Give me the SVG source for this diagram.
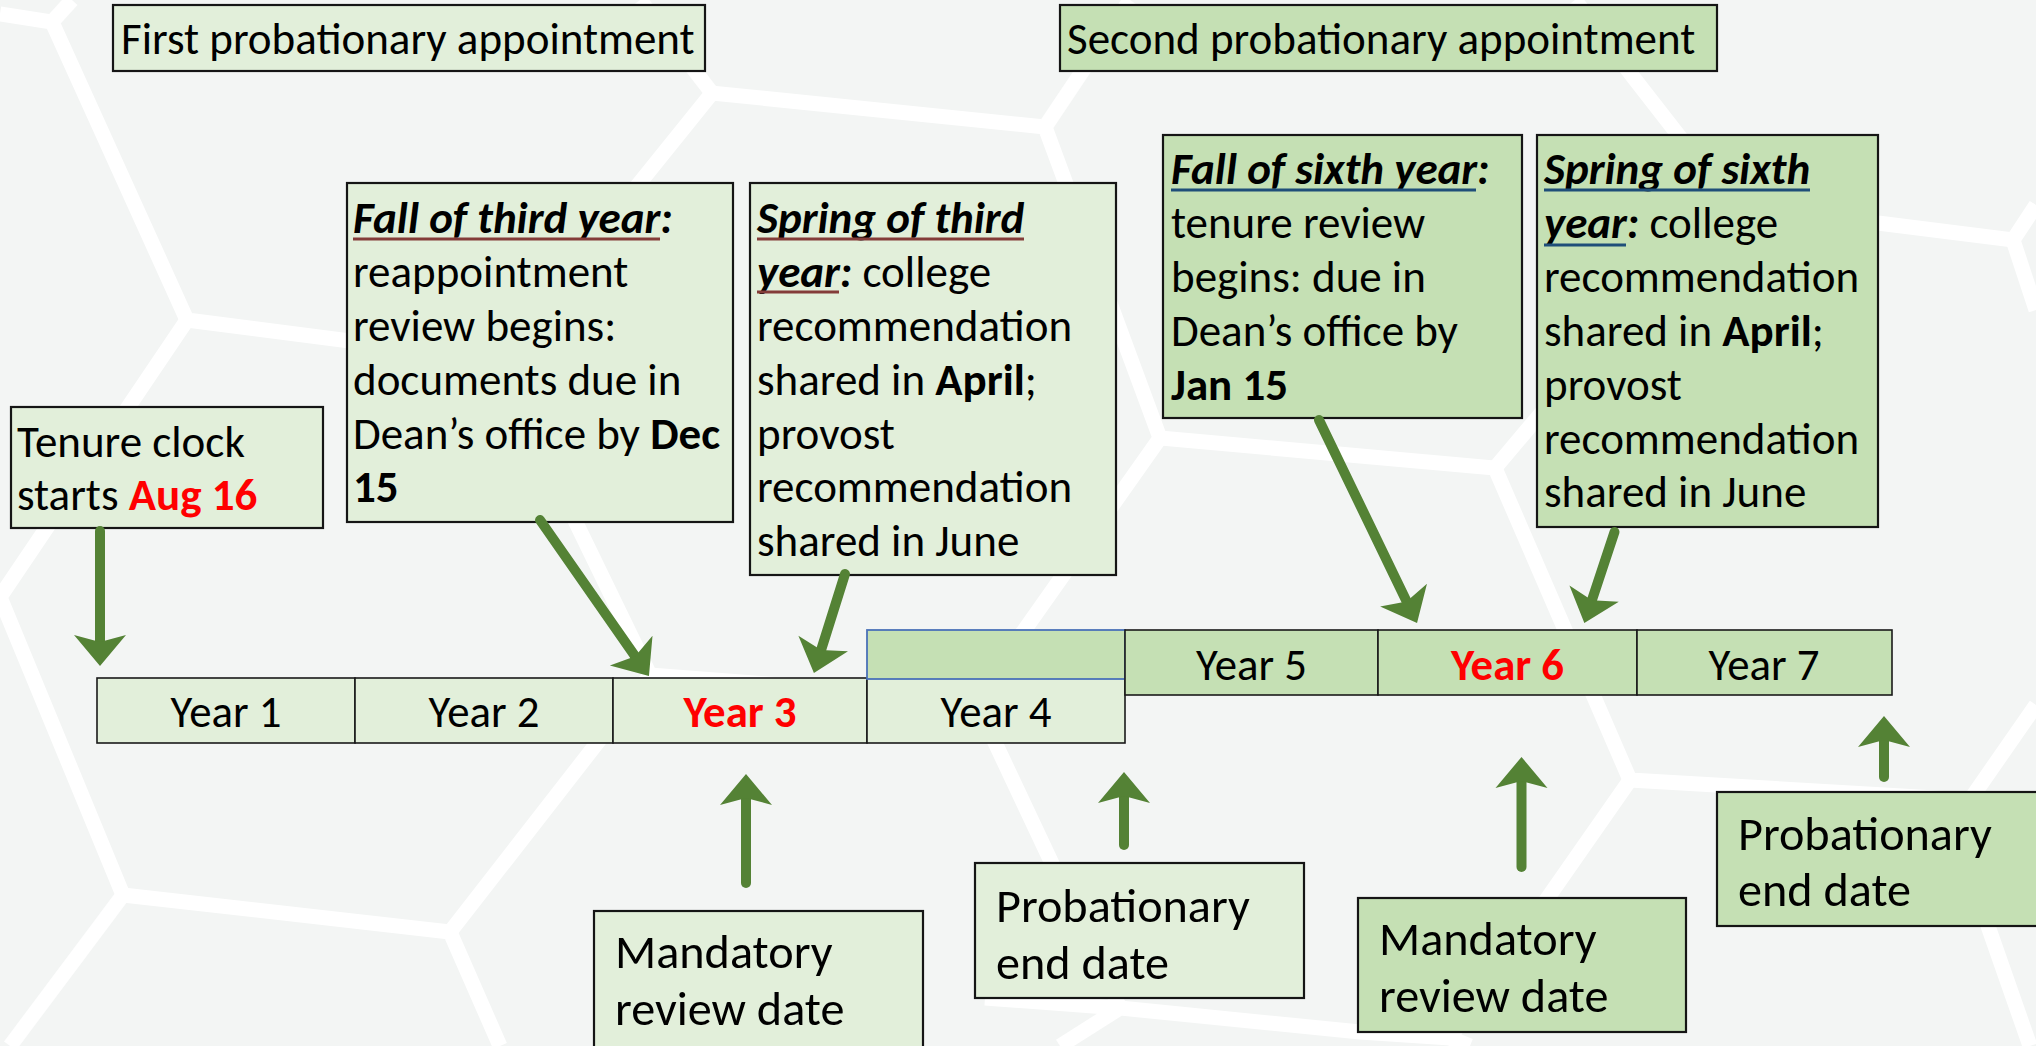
<svg xmlns="http://www.w3.org/2000/svg" width="2036" height="1046" viewBox="0 0 2036 1046">
<style>
.bg{fill:#f3f5f4}
.net{fill:none;stroke:#ffffff;stroke-width:15;stroke-linejoin:miter;stroke-linecap:butt}
.lt{fill:#e2efda;stroke:#151515;stroke-width:2.2}
.dk{fill:#c5e0b4;stroke:#151515;stroke-width:2.2}
.cl{fill:#e2efda;stroke:#1a1a1a;stroke-width:1.6}
.cd{fill:#c5e0b4;stroke:#1a1a1a;stroke-width:1.6}
.blank{fill:#c5e0b4;stroke:#4a72b8;stroke-width:1.8}
text{font-family:Carlito,Calibri,Lato,"Liberation Sans",sans-serif;fill:#000}
.h{font-size:45px}
.t{font-size:45px}
.tb{font-size:48.2px}
.yr{font-size:44.8px;text-anchor:middle}
.b{font-weight:bold}
.bi{font-weight:bold;font-style:italic}
.red{fill:#ff0000}
.ulr{stroke:#843c39;stroke-width:3}
.ulb{stroke:#1f4e79;stroke-width:3}
.arr{fill:none;stroke:#548235;stroke-width:10;stroke-linecap:round;marker-end:url(#head)}
</style>
<defs>
<marker id="head" markerUnits="userSpaceOnUse" markerWidth="40" markerHeight="60" refX="7" refY="26" orient="auto" overflow="visible">
<path d="M0,0 L31,26 L0,52 L7,26 Z" fill="#548235"/>
</marker>
</defs>
<rect class="bg" x="0" y="0" width="2036" height="1046"/>
<g id="background-net">
<polyline class="net" points="0,14 52,22 187,320 497,360 712,93 1045,127 1160,438 1495,468 1630,780 1970,800 2036,705"/>
<polyline class="net" points="52,22 72,0"/>
<polyline class="net" points="187,320 0,597 123,895 450,932 500,1046"/>
<polyline class="net" points="123,895 10,1046"/>
<polyline class="net" points="450,932 650,675 497,360"/>
<polyline class="net" points="712,93 640,0"/>
<polyline class="net" points="1045,127 1130,0"/>
<polyline class="net" points="650,675 975,700 1160,438"/>
<polyline class="net" points="975,700 1120,1008 1360,1032 1450,1038 1630,780"/>
<polyline class="net" points="1120,1008 1060,1046"/>
<polyline class="net" points="1120,1008 985,998"/>
<polyline class="net" points="1450,1038 1470,1046"/>
<polyline class="net" points="1495,468 1725,195 1630,73 1575,0"/>
<polyline class="net" points="1725,195 1878,223 2013,240 2036,205"/>
<polyline class="net" points="2013,240 2036,310"/>
<polyline class="net" points="1970,800 1988,926 2030,1046"/>
</g>
<g id="first-appointment">
<rect class="lt" x="113" y="5" width="592" height="66"/>
<text class="h" x="121" y="54">First probationary appointment</text>
</g>
<g id="second-appointment">
<rect class="dk" x="1060" y="5" width="657" height="66"/>
<text class="h" x="1067" y="54">Second probationary appointment</text>
</g>
<g id="tenure-clock">
<rect class="lt" x="11" y="407" width="312" height="121"/>
<text class="t" x="17" y="457">Tenure clock</text>
<text class="t" x="17" y="510">starts <tspan class="b red">Aug 16</tspan></text>
</g>
<g id="fall-third">
<rect class="lt" x="347" y="183" width="386" height="339"/>
<text class="t" x="353" y="233"><tspan class="bi">Fall of third year:</tspan></text>
<line class="ulr" x1="353" y1="239" x2="660" y2="239"/>
<text class="t" x="353" y="287">reappointment</text>
<text class="t" x="353" y="341">review begins:</text>
<text class="t" x="353" y="395">documents due in</text>
<text class="t" x="353" y="449">Dean’s office by <tspan class="b">Dec</tspan></text>
<text class="t b" x="353" y="502">15</text>
</g>
<g id="spring-third">
<rect class="lt" x="750" y="183" width="366" height="392"/>
<text class="t" x="757" y="233"><tspan class="bi">Spring of third</tspan></text>
<line class="ulr" x1="757" y1="239" x2="1024" y2="239"/>
<text class="t" x="757" y="287"><tspan class="bi">year:</tspan> college</text>
<line class="ulr" x1="757" y1="292" x2="839" y2="292"/>
<text class="t" x="757" y="341">recommendation</text>
<text class="t" x="757" y="395">shared in <tspan class="b">April</tspan>;</text>
<text class="t" x="757" y="449">provost</text>
<text class="t" x="757" y="502">recommendation</text>
<text class="t" x="757" y="556">shared in June</text>
</g>
<g id="fall-sixth">
<rect class="dk" x="1163" y="135" width="359" height="283"/>
<text class="t" x="1171" y="184"><tspan class="bi">Fall of sixth year:</tspan></text>
<line class="ulb" x1="1171" y1="190" x2="1476" y2="190"/>
<text class="t" x="1171" y="238">tenure review</text>
<text class="t" x="1171" y="292">begins: due in</text>
<text class="t" x="1171" y="346">Dean’s office by</text>
<text class="t b" x="1171" y="400">Jan 15</text>
</g>
<g id="spring-sixth">
<rect class="dk" x="1537" y="135" width="341" height="392"/>
<text class="t" x="1544" y="184"><tspan class="bi">Spring of sixth</tspan></text>
<line class="ulb" x1="1544" y1="190" x2="1810" y2="190"/>
<text class="t" x="1544" y="238"><tspan class="bi">year:</tspan> college</text>
<line class="ulb" x1="1544" y1="245" x2="1626" y2="245"/>
<text class="t" x="1544" y="292">recommendation</text>
<text class="t" x="1544" y="346">shared in <tspan class="b">April</tspan>;</text>
<text class="t" x="1544" y="400">provost</text>
<text class="t" x="1544" y="454">recommendation</text>
<text class="t" x="1544" y="507">shared in June</text>
</g>
<g id="year-1"><rect class="cl" x="97" y="678" width="258" height="65"/><text class="yr" x="226" y="727">Year 1</text></g>
<g id="year-2"><rect class="cl" x="355" y="678" width="258" height="65"/><text class="yr" x="484" y="727">Year 2</text></g>
<g id="year-3"><rect class="cl" x="613" y="678" width="254" height="65"/><text class="yr b red" x="740" y="727">Year 3</text></g>
<g id="year-4"><rect class="cl" x="867" y="678" width="258" height="65"/><text class="yr" x="996" y="727">Year 4</text></g>
<g id="extension"><rect class="blank" x="867" y="630" width="258" height="49"/></g>
<g id="year-5"><rect class="cd" x="1125" y="630" width="253" height="65"/><text class="yr" x="1251.5" y="680">Year 5</text></g>
<g id="year-6"><rect class="cd" x="1378" y="630" width="259" height="65"/><text class="yr b red" x="1507.5" y="680">Year 6</text></g>
<g id="year-7"><rect class="cd" x="1637" y="630" width="255" height="65"/><text class="yr" x="1764" y="680">Year 7</text></g>
<g id="mandatory-1">
<rect class="lt" x="594" y="911" width="329" height="145"/>
<text class="tb" x="615" y="968">Mandatory</text>
<text class="tb" x="615" y="1025">review date</text>
</g>
<g id="probationary-1">
<rect class="lt" x="975" y="863" width="329" height="135"/>
<text class="tb" x="996" y="922">Probationary</text>
<text class="tb" x="996" y="979">end date</text>
</g>
<g id="mandatory-2">
<rect class="dk" x="1358" y="898" width="328" height="134"/>
<text class="tb" x="1379" y="955">Mandatory</text>
<text class="tb" x="1379" y="1012">review date</text>
</g>
<g id="probationary-2">
<rect class="dk" x="1717" y="792" width="340" height="134"/>
<text class="tb" x="1738" y="850">Probationary</text>
<text class="tb" x="1738" y="906">end date</text>
</g>
<g id="connectors">
<path class="arr" d="M100,531 L100,642"/>
<path class="arr" d="M540,520 L635.2,656.3"/>
<path class="arr" d="M845,574 L821.1,650.1"/>
<path class="arr" d="M746,883 L746,798"/>
<path class="arr" d="M1124,845 L1124,796"/>
<path class="arr" d="M1319,420 L1406.6,601.4"/>
<path class="arr" d="M1614.5,532 L1591.9,600.2"/>
<path class="arr" d="M1521.5,867 L1521.5,781"/>
<path class="arr" d="M1884,777 L1884,740"/>
</g>
</svg>
